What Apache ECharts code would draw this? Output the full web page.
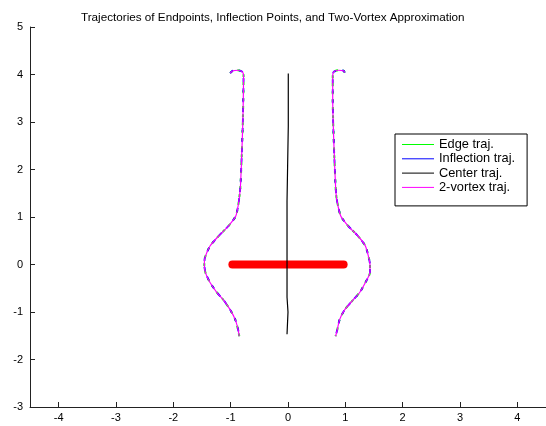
<!DOCTYPE html>
<html>
<head>
<meta charset="utf-8">
<script src="https://cdn.jsdelivr.net/npm/echarts@6/dist/echarts.min.js"></script>
<style>
  html, body { margin: 0; padding: 0; background: #fff; }
  #chart { width: 546px; height: 426px; }
</style>
</head>
<body>
<div id="chart"></div>
<script>
// left and right trajectory branches (x, y)
var leftBranch = [
  [-1.01, 4.03], [-0.96, 4.08], [-0.87, 4.09], [-0.80, 4.06], [-0.775, 3.98],
  [-0.78, 3.47], [-0.79, 2.91], [-0.81, 2.21], [-0.83, 1.64], [-0.86, 1.31],
  [-0.91, 1.02], [-1.04, 0.81], [-1.21, 0.60], [-1.36, 0.39], [-1.45, 0.14],
  [-1.46, 0.0], [-1.44, -0.17], [-1.36, -0.38], [-1.24, -0.59], [-1.13, -0.74],
  [-1.01, -0.95], [-0.92, -1.16], [-0.87, -1.37], [-0.85, -1.51]
];
var rightBranch = [
  [0.99, 4.04], [0.97, 4.08], [0.88, 4.09], [0.80, 4.06], [0.78, 3.98],
  [0.78, 3.47], [0.79, 2.91], [0.81, 2.21], [0.83, 1.64], [0.85, 1.37],
  [0.92, 1.02], [1.05, 0.81], [1.22, 0.60], [1.35, 0.39], [1.41, 0.14],
  [1.43, 0.0], [1.43, -0.17], [1.35, -0.38], [1.25, -0.59], [1.14, -0.74],
  [0.99, -0.95], [0.90, -1.16], [0.86, -1.37], [0.83, -1.51]
];
var centerTraj = [
  [0.005, 4.02], [0.005, 2.91], [-0.017, 2.89], [-0.017, 1.33], [-0.012, 1.30],
  [-0.017, 1.27], [-0.017, -0.69], [0.0, -0.70], [0.0, -1.0], [-0.017, -1.01],
  [-0.017, -1.47]
];
var vortexPair = [[-0.97, 0], [0.97, 0]];
var xTicks = [-4, -3, -2, -1, 0, 1, 2, 3, 4];
var legendNames = ['Edge traj.', 'Inflection traj.', 'Center traj.', '2-vortex traj.'];
var legendColors = ['#00ff00', '#0000ff', '#000000', '#ff00ff'];

var font = 'Liberation Sans, Arial, sans-serif';

function branch(name, data, color, width, dash) {
  return {
    name: name,
    type: 'line',
    data: data,
    symbol: 'none',
    smooth: 0.2,
    silent: true,
    lineStyle: { color: color, width: width, type: dash || 'solid' },
    itemStyle: { color: color }
  };
}

var chart = echarts.init(document.getElementById('chart'));
chart.setOption({
  animation: false,
  title: {
    text: 'Trajectories of Endpoints, Inflection Points, and Two-Vortex Approximation',
    left: 76,
    top: 7,
    textStyle: { fontFamily: font, fontSize: 11.7, fontWeight: 'normal', color: '#000' }
  },
  legend: {
    data: legendNames.map(function (n, i) {
      return { name: n, icon: 'rect', itemStyle: { color: legendColors[i] } };
    }),
    orient: 'vertical',
    left: 395,
    top: 134,
    padding: [4, 12, 12, 7],
    itemWidth: 32,
    itemHeight: 1,
    itemGap: 1.3,
    borderColor: '#000',
    borderWidth: 1,
    backgroundColor: '#fff',
    selectedMode: false,
    textStyle: { fontFamily: font, fontSize: 12.8, color: '#000' }
  },
  grid: { left: 30, right: 0, top: 27, bottom: 19 },
  xAxis: {
    type: 'value',
    min: -4.5,
    max: 4.5,
    axisLine: { onZero: false, lineStyle: { color: '#222', width: 1 } },
    axisTick: { inside: true, length: 5, customValues: xTicks, lineStyle: { color: '#222' } },
    axisLabel: { customValues: xTicks, margin: 5, fontFamily: font, fontSize: 11, color: '#000' },
    splitLine: { show: false }
  },
  yAxis: {
    type: 'value',
    min: -3,
    max: 5,
    interval: 1,
    axisLine: { show: true, onZero: false, lineStyle: { color: '#222', width: 1 } },
    axisTick: { show: true, inside: true, length: 5, lineStyle: { color: '#222' } },
    axisLabel: { margin: 7, fontFamily: font, fontSize: 11, color: '#000' },
    splitLine: { show: false }
  },
  series: [
    branch('Edge traj.', leftBranch, '#00ff00', 2, [3, 5]),
    branch('Edge traj.', rightBranch, '#00ff00', 2, [3, 5]),
    branch('Inflection traj.', leftBranch, '#0000ff', 1.8, [4, 6]),
    branch('Inflection traj.', rightBranch, '#0000ff', 1.8, [4, 6]),
    {
      name: 'vortex',
      type: 'line',
      data: vortexPair,
      symbol: 'none',
      silent: true,
      lineStyle: { color: '#ff0000', width: 8, cap: 'round' }
    },
    branch('2-vortex traj.', leftBranch, '#ff00ff', 1.2),
    branch('2-vortex traj.', rightBranch, '#ff00ff', 1.2),
    {
      name: 'Center traj.',
      type: 'line',
      data: centerTraj,
      symbol: 'none',
      silent: true,
      lineStyle: { color: '#000', width: 1.2 },
      itemStyle: { color: '#000' }
    }
  ]
});
</script>
</body>
</html>
